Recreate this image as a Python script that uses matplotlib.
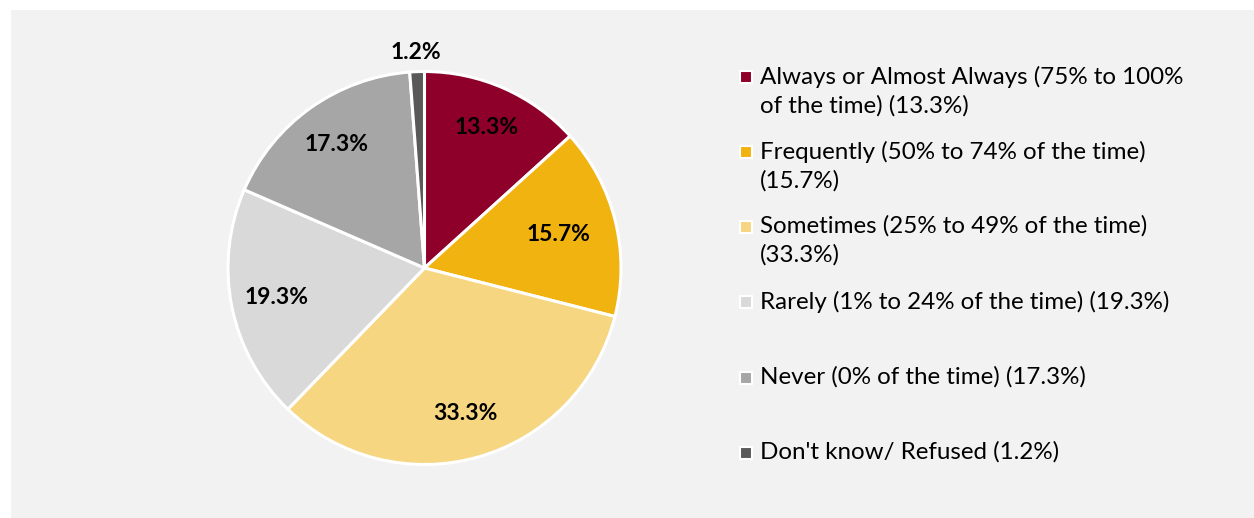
import matplotlib
matplotlib.use("Agg")
import matplotlib.pyplot as plt
from matplotlib.patches import Rectangle
import numpy as np

categories = [
    "Always or Almost Always (75% to 100%\nof the time) (13.3%)",
    "Frequently (50% to 74% of the time)\n(15.7%)",
    "Sometimes (25% to 49% of the time)\n(33.3%)",
    "Rarely (1% to 24% of the time) (19.3%)",
    "Never (0% of the time) (17.3%)",
    "Don't know/ Refused (1.2%)",
]
shares = [13.3, 15.7, 33.3, 19.3, 17.3, 1.2]
slice_labels = ["13.3%", "15.7%", "33.3%", "19.3%", "17.3%", "1.2%"]
colors = ["#8E0029", "#F0B310", "#F6D680", "#D9D9D9", "#A6A6A6", "#595959"]

plt.rcParams["font.family"] = ["Lato", "DejaVu Sans"]

W, H = 1254, 518
fig = plt.figure(figsize=(W / 100, H / 100), dpi=100)
fig.patch.set_facecolor("white")
ax = fig.add_axes([0, 0, 1, 1])

# grey chart panel
ax.add_patch(Rectangle((11, 0), W - 11, H - 10, facecolor="#F2F2F2",
                       edgecolor="none", zorder=0))

cx, cy, r = 424.5, H - 268, 196.5
wedges, _ = ax.pie(shares, colors=colors, startangle=90, counterclock=False,
                   center=(cx, cy), radius=r,
                   wedgeprops=dict(edgecolor="white", linewidth=2.2))

# data labels at slice mid-angles
label_dist = [0.78, 0.70, 0.77, 0.77, 0.77, 1.10]
for w, txt, d in zip(wedges, slice_labels, label_dist):
    mid = np.deg2rad((w.theta1 + w.theta2) / 2)
    ax.text(cx + d * r * np.cos(mid), cy + d * r * np.sin(mid), txt,
            ha="center", va="center", fontsize=16.5, fontweight="bold",
            color="black", zorder=5)

ax.set_xlim(0, W)
ax.set_ylim(0, H)
ax.set_aspect("equal")
ax.axis("off")

# legend
first_line_y = [77, 152, 227, 302, 378, 453]
for lab, col, y in zip(categories, colors, first_line_y):
    ax.add_patch(Rectangle((739.5, H - y - 6), 12, 12, facecolor=col,
                           edgecolor="white", linewidth=1.5, zorder=3))
    ax.text(760, H - y + 11.5, lab, ha="left", va="top", fontsize=17.4,
            color="black", linespacing=1.4, zorder=3)

fig.savefig("out.png", dpi=100, facecolor=fig.get_facecolor())
